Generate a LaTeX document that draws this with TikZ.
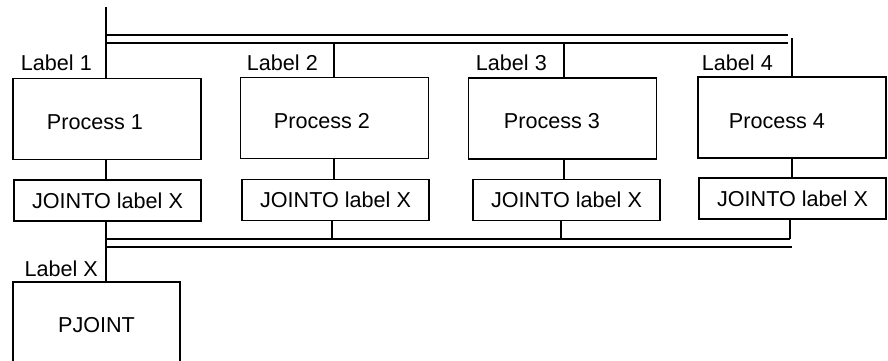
\documentclass[tikz,border=0pt]{standalone}
\usepackage{fontspec}
\setmainfont{Liberation Sans}
\begin{document}
\begin{tikzpicture}[x=1pt,y=-1pt,
  every node/.style={font=\fontsize{21.6}{25}\selectfont},
  box/.style={draw,line width=1.3pt,inner sep=0pt,minimum width=188pt,minimum height=81pt},
  jbox/.style={draw,line width=1.3pt,inner sep=0pt,minimum width=187pt,minimum height=41pt},
  lbl/.style={inner sep=0pt,anchor=east},
  txt/.style={inner sep=0pt},
  bus/.style={line width=2.4pt},
  thin/.style={line width=1.3pt}]
\path[use as bounding box,clip] (0,0) rectangle (888,361);
% process boxes
\node[box] (p1) at (107,119) {};
\node[box] (p2) at (334.5,118) {};
\node[box] (p3) at (562.5,118.5) {};
\node[box] (p4) at (792,117.5) {};
\node[txt] (t1) at (95,122) {Process 1};
\node[txt] (t2) at (322,121) {Process 2};
\node[txt] (t3) at (552,121) {Process 3};
\node[txt] (t4) at (777,121) {Process 4};
% jointo boxes
\node[jbox] (j1) at (107.5,200.5) {JOINTO label X};
\node[jbox] (j2) at (335.5,200) {JOINTO label X};
\node[jbox] (j3) at (566.5,200) {JOINTO label X};
\node[jbox] (j4) at (792.5,198.5) {JOINTO label X};
% pjoint
\node[draw,line width=1.3pt,inner sep=0pt,minimum width=167pt,minimum height=86pt] (pj) at (96.5,325) {PJOINT};
% labels
\node[lbl] (l1) at (92,63) {Label 1};
\node[lbl] (l2) at (318,63) {Label 2};
\node[lbl] (l3) at (547,63) {Label 3};
\node[lbl] (l4) at (773,63) {Label 4};
\node[lbl] (lx) at (98,269) {Label X};
% bus coordinates
\coordinate (top) at (106,7);
\coordinate (b1L) at (106,35); \coordinate (b1R) at (788,35);
\coordinate (b2L) at (106,43); \coordinate (b2R) at (788,43);
\coordinate (c2) at (334,43); \coordinate (c3) at (564,43); \coordinate (c4) at (792,38);
\coordinate (d1L) at (106,239); \coordinate (d1R) at (790,239);
\coordinate (d2L) at (106,247); \coordinate (d2R) at (792,247);
\coordinate (e2) at (332,239); \coordinate (e3) at (561,239); \coordinate (e4) at (790,239);
% top bus
\draw[bus] (top) -- (top |- p1.north);
\draw[bus] (b1L) -- (b1R);
\draw[bus] (b2L) -- (b2R);
\draw[bus] (c2) -- (c2 |- p2.north);
\draw[bus] (c3) -- (c3 |- p3.north);
\draw[bus] (c4) -- (c4 |- p4.north);
% process to jointo
\draw[bus] (top |- p1.south) -- (top |- j1.north);
\draw[bus] (c2 |- p2.south) -- (c2 |- j2.north);
\draw[bus] (c3 |- p3.south) -- (c3 |- j3.north);
\draw[bus] (c4 |- p4.south) -- (c4 |- j4.north);
% lower bus
\draw[bus] (d1L) -- (d1R);
\draw[bus] (d2L) -- (d2R);
\draw[thin] (top |- j1.south) -- (top |- pj.north);
\draw[bus] (e2 |- j2.south) -- (e2);
\draw[bus] (e3 |- j3.south) -- (e3);
\draw[bus] (e4 |- j4.south) -- (e4);
\end{tikzpicture}
\end{document}
